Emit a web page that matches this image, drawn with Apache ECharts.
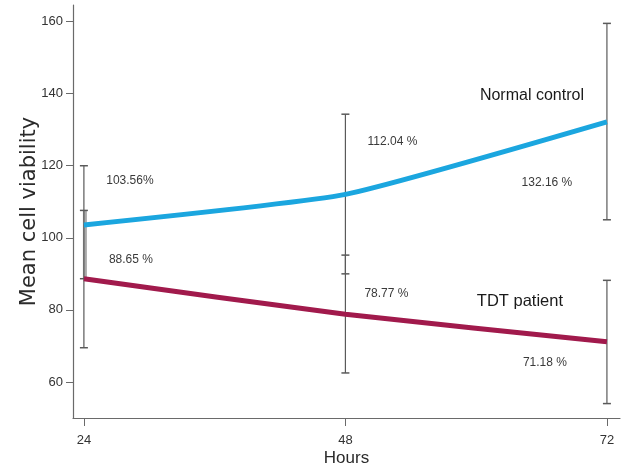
<!DOCTYPE html>
<html>
<head>
<meta charset="utf-8">
<script src="https://cdn.jsdelivr.net/npm/echarts@6/dist/echarts.min.js"></script>
<style>
html,body{margin:0;padding:0;background:#fff;}
#chart{width:624px;height:466px;}
</style>
</head>
<body>
<div id="chart"></div>
<script>
// ---- data ----
const hours = [24, 48, 72];
const xTicks = [24, 48, 72];
const yTicks = [60, 80, 100, 120, 140, 160];
const seriesNames = ['Normal control', 'TDT patient'];
const controlMeans = [103.56, 112.04, 132.16];
const tdtMeans = [88.65, 78.77, 71.18];
const controlLabels = ['103.56%', '112.04 %', '132.16 %'];
const tdtLabels = ['88.65 %', '78.77 %', '71.18 %'];
const outerLow = [69.5, 62.5, 105.0];
const outerHigh = [120.0, 134.3, 159.5];
const innerLow = [88.65, 90.0, 54.0];
const innerHigh = [107.6, 95.2, 88.2];

// ---- layout (label offsets in px) ----
const controlLabelOffsets = [[46, -44], [47, -53], [-60, 61]];
const tdtLabelOffsets = [[47, -19], [41, -21], [-62, 21]];
const sans = '"Liberation Sans", Arial, sans-serif';

const chart = echarts.init(document.getElementById('chart'), null, {renderer: 'canvas'});

function errorBar(thickFirst) {
  return function (params, api) {
    const x = api.value(0), lo = api.value(1), hi = api.value(2);
    const pLo = api.coord([x, lo]);
    const pHi = api.coord([x, hi]);
    const thick = thickFirst && params.dataIndex === 0;
    const st = thick ? {stroke: '#a9a9a9', lineWidth: 4} : {stroke: '#5a5a5a', lineWidth: 1.2};
    const capSt = {stroke: '#5a5a5a', lineWidth: 1.5};
    const cap = 4;
    const xo = thick ? 1 : 0;
    return {
      type: 'group',
      children: [
        {type: 'line', shape: {x1: pHi[0] + xo, y1: pHi[1], x2: pLo[0] + xo, y2: pLo[1]}, style: st},
        {type: 'line', shape: {x1: pHi[0] - cap, y1: pHi[1], x2: pHi[0] + cap, y2: pHi[1]}, style: capSt},
        {type: 'line', shape: {x1: pLo[0] - cap, y1: pLo[1], x2: pLo[0] + cap, y2: pLo[1]}, style: capSt}
      ]
    };
  };
}

const pctLabel = {
  show: true,
  color: '#3a3a3a',
  fontFamily: sans,
  fontSize: 12,
  position: 'inside'
};

const option = {
  animation: false,
  backgroundColor: '#fff',
  grid: {left: 73, right: 4, top: 5, bottom: 48, containLabel: false, outerBoundsMode: 'none'},
  xAxis: {
    type: 'value',
    min: 23,
    max: 73.2,
    name: 'Hours',
    nameLocation: 'middle',
    nameGap: 32,
    nameMoveOverlap: false,
    nameTextStyle: {color: '#2b2b2b', fontSize: 17, fontFamily: sans},
    axisLine: {show: true, onZero: false, lineStyle: {color: '#6a6a6a', width: 1.2}},
    axisTick: {show: true, length: 8, lineStyle: {color: '#6a6a6a'}, customValues: xTicks},
    axisLabel: {color: '#333', fontSize: 13, fontFamily: sans, margin: 16, customValues: xTicks},
    splitLine: {show: false}
  },
  yAxis: {
    type: 'value',
    min: 50,
    max: 164.6,
    name: 'Mean cell viability',
    nameLocation: 'middle',
    nameGap: 33,
    nameMoveOverlap: false,
    nameRotate: 90,
    nameTextStyle: {color: '#2b2b2b', fontSize: 21, fontFamily: '"DejaVu Sans", sans-serif'},
    axisLine: {show: true, lineStyle: {color: '#6a6a6a', width: 1.2}},
    axisTick: {show: true, length: 7, lineStyle: {color: '#6a6a6a'}, customValues: yTicks},
    axisLabel: {color: '#333', fontSize: 13, fontFamily: sans, margin: 10, customValues: yTicks},
    splitLine: {show: false}
  },
  series: [
    {
      type: 'custom',
      name: 'inner error',
      renderItem: errorBar(true),
      encode: {x: 0, y: [1, 2]},
      data: hours.map((h, i) => [h, innerLow[i], innerHigh[i]]),
      z: 1
    },
    {
      type: 'custom',
      name: 'outer error',
      renderItem: errorBar(false),
      encode: {x: 0, y: [1, 2]},
      data: hours.map((h, i) => [h, outerLow[i], outerHigh[i]]),
      z: 2
    },
    {
      type: 'line',
      name: seriesNames[0],
      smooth: 0.15,
      symbol: 'circle',
      symbolSize: 1,
      showSymbol: true,
      itemStyle: {color: 'rgba(0,0,0,0)'},
      lineStyle: {color: '#1ba6df', width: 5},
      z: 5,
      data: hours.map((h, i) => ({
        value: [h, controlMeans[i]],
        label: Object.assign({}, pctLabel, {formatter: controlLabels[i], offset: controlLabelOffsets[i]})
      })),
      markPoint: {
        symbol: 'circle', symbolSize: 0,
        label: {show: true, formatter: seriesNames[0], color: '#1a1a1a', fontSize: 16, fontFamily: sans, offset: [-75, -26]},
        data: [{coord: [hours[2], controlMeans[2]]}]
      }
    },
    {
      type: 'line',
      name: seriesNames[1],
      smooth: 0.15,
      symbol: 'circle',
      symbolSize: 1,
      showSymbol: true,
      itemStyle: {color: 'rgba(0,0,0,0)'},
      lineStyle: {color: '#a11a4c', width: 5},
      z: 5,
      data: hours.map((h, i) => ({
        value: [h, tdtMeans[i]],
        label: Object.assign({}, pctLabel, {formatter: tdtLabels[i], offset: tdtLabelOffsets[i]})
      })),
      markPoint: {
        symbol: 'circle', symbolSize: 0,
        label: {show: true, formatter: seriesNames[1], color: '#1a1a1a', fontSize: 16.5, fontFamily: sans, offset: [-87, -40]},
        data: [{coord: [hours[2], tdtMeans[2]]}]
      }
    }
  ]
};
chart.setOption(option);
</script>
</body>
</html>
